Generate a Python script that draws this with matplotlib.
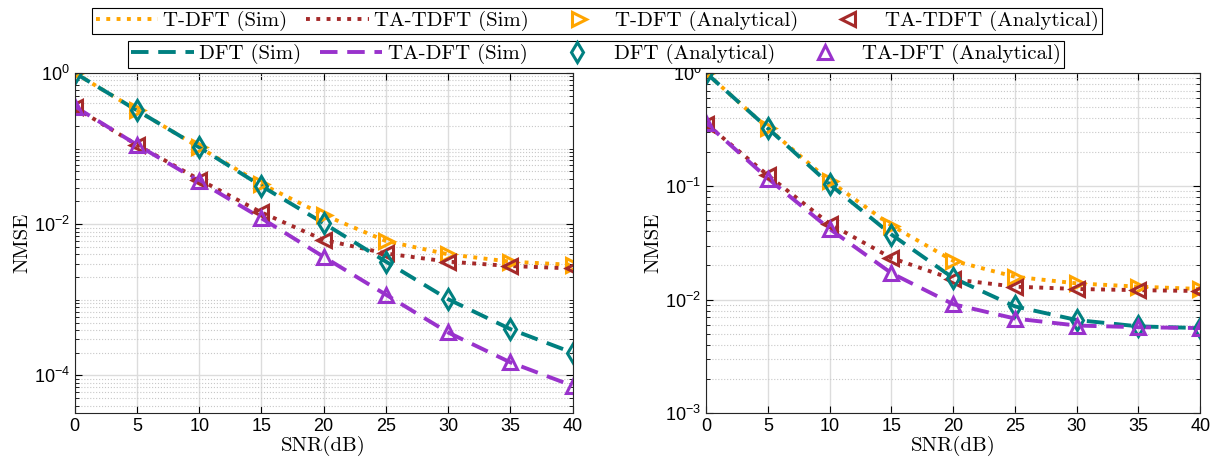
import matplotlib
matplotlib.use("Agg")
import matplotlib.pyplot as plt
from matplotlib.lines import Line2D
import numpy as np

plt.rcParams['mathtext.fontset'] = 'custom'
plt.rcParams['mathtext.rm'] = 'Liberation Sans'
plt.rcParams['mathtext.it'] = 'Liberation Sans:italic'

snr = [0, 5, 10, 15, 20, 25, 30, 35, 40]

# left panel
t_dft_l = [1.0, 0.32, 0.104, 0.034, 0.0133, 0.0060, 0.0040, 0.0032, 0.0029]
ta_tdft_l = [0.35, 0.112, 0.039, 0.0143, 0.0062, 0.0041, 0.0032, 0.0028, 0.0026]
dft_l = [1.0, 0.32, 0.104, 0.032, 0.0103, 0.0032, 0.00102, 0.00041, 0.0002]
ta_dft_l = [0.36, 0.112, 0.037, 0.012, 0.0037, 0.00117, 0.00037, 0.000149, 0.000073]

# right panel
t_dft_r = [1.0, 0.325, 0.111, 0.045, 0.022, 0.0159, 0.0139, 0.0130, 0.0124]
ta_tdft_r = [0.355, 0.125, 0.0466, 0.0233, 0.0151, 0.0130, 0.0124, 0.0121, 0.0119]
dft_r = [1.0, 0.325, 0.104, 0.0375, 0.0155, 0.0087, 0.0066, 0.0058, 0.0056]
ta_dft_r = [0.36, 0.117, 0.042, 0.0171, 0.0091, 0.0068, 0.0059, 0.0057, 0.0056]

c_tdft = '#FFA500'
c_tatdft = '#A52A2A'
c_dft = '#008080'
c_tadft = '#9932CC'

serif = 'cmr10'

fig = plt.figure(figsize=(12.26, 4.74), dpi=100)
ax1 = fig.add_axes([0.061, 0.129, 0.406, 0.717])
ax2 = fig.add_axes([0.576, 0.129, 0.403, 0.717])

def draw(ax, td, tatd, d, tad, ylim, majors):
    lw = 2.8
    ax.plot(snr, td, ':', color=c_tdft, lw=lw)
    ax.plot(snr, tatd, ':', color=c_tatdft, lw=lw)
    ax.plot(snr, d, '--', color=c_dft, lw=lw, dashes=(4.5, 2.5))
    ax.plot(snr, tad, '--', color=c_tadft, lw=lw, dashes=(4.5, 2.5))
    mk = dict(linestyle='none', markersize=10, markeredgewidth=2.2, markerfacecolor='none')
    ax.plot(snr, td, '>', color=c_tdft, **mk)
    ax.plot(snr, tatd, '<', color=c_tatdft, **mk)
    ax.plot(snr, d, 'd', color=c_dft, **mk)
    ax.plot(snr, tad, '^', color=c_tadft, **mk)
    ax.set_yscale('log')
    ax.set_xlim(0, 40)
    ax.set_ylim(*ylim)
    ax.set_xticks(snr)
    ax.set_yticks(majors)
    ax.set_yticklabels([r'$10^{%d}$' % int(np.log10(v)) for v in majors])
    minors = []
    for e in range(-6, 1):
        for m in range(1, 10):
            v = m * 10.0 ** e
            if ylim[0] <= v <= ylim[1] and v not in majors:
                minors.append(v)
    ax.set_yticks(minors, minor=True)
    ax.yaxis.set_minor_formatter(matplotlib.ticker.NullFormatter())
    ax.grid(True, which='major', color='#dcdcdc', lw=1.0)
    ax.grid(True, which='minor', axis='y', color='#c8c8c8', lw=0.8, linestyle=':')
    ax.tick_params(which='both', direction='in', top=True, right=True, labelsize=13)
    ax.tick_params(which='major', length=5)
    ax.tick_params(which='minor', length=3)
    for lab in ax.get_xticklabels():
        lab.set_family('Liberation Sans')
    for s in ax.spines.values():
        s.set_color('#262626')
    ax.set_xlabel('SNR(dB)', fontfamily=serif, fontsize=15, labelpad=1)
    ax.set_ylabel('NMSE', fontfamily=serif, fontsize=15, labelpad=2)
    ax.set_axisbelow(True)

draw(ax1, t_dft_l, ta_tdft_l, dft_l, ta_dft_l, (3.2e-5, 1.0), [1e-4, 1e-2, 1e0])
draw(ax2, t_dft_r, ta_tdft_r, dft_r, ta_dft_r, (1e-3, 1.0), [1e-3, 1e-2, 1e-1, 1e0])

mk = dict(linestyle='none', markersize=10, markeredgewidth=2.2, markerfacecolor='none')
h1 = [Line2D([], [], ls=':', color=c_tdft, lw=2.8),
      Line2D([], [], ls=':', color=c_tatdft, lw=2.8),
      Line2D([], [], marker='>', color=c_tdft, **mk),
      Line2D([], [], marker='<', color=c_tatdft, **mk)]
l1 = ['T-DFT (Sim)', 'TA-TDFT (Sim)', 'T-DFT (Analytical)', 'TA-TDFT (Analytical)']
h2 = [Line2D([], [], ls='--', color=c_dft, lw=2.8, dashes=(4.5, 2.5)),
      Line2D([], [], ls='--', color=c_tadft, lw=2.8, dashes=(4.5, 2.5)),
      Line2D([], [], marker='d', color=c_dft, **mk),
      Line2D([], [], marker='^', color=c_tadft, **mk)]
l2 = ['DFT (Sim)', 'TA-DFT (Sim)', 'DFT (Analytical)', 'TA-DFT (Analytical)']

legkw = dict(ncol=4, loc='upper center', frameon=True, fancybox=False,
             edgecolor='black', framealpha=1, handlelength=3.0, handletextpad=0.25,
             columnspacing=0.9, borderpad=0.15, prop={'family': serif, 'size': 15})
leg1 = fig.legend(h1, l1, bbox_to_anchor=(0.487, 1.005), **legkw)
leg1.get_frame().set_linewidth(0.8)
leg2 = fig.legend(h2, l2, bbox_to_anchor=(0.486, 0.935), **legkw)
leg2.get_frame().set_linewidth(0.8)

fig.savefig('out.png', dpi=100)
